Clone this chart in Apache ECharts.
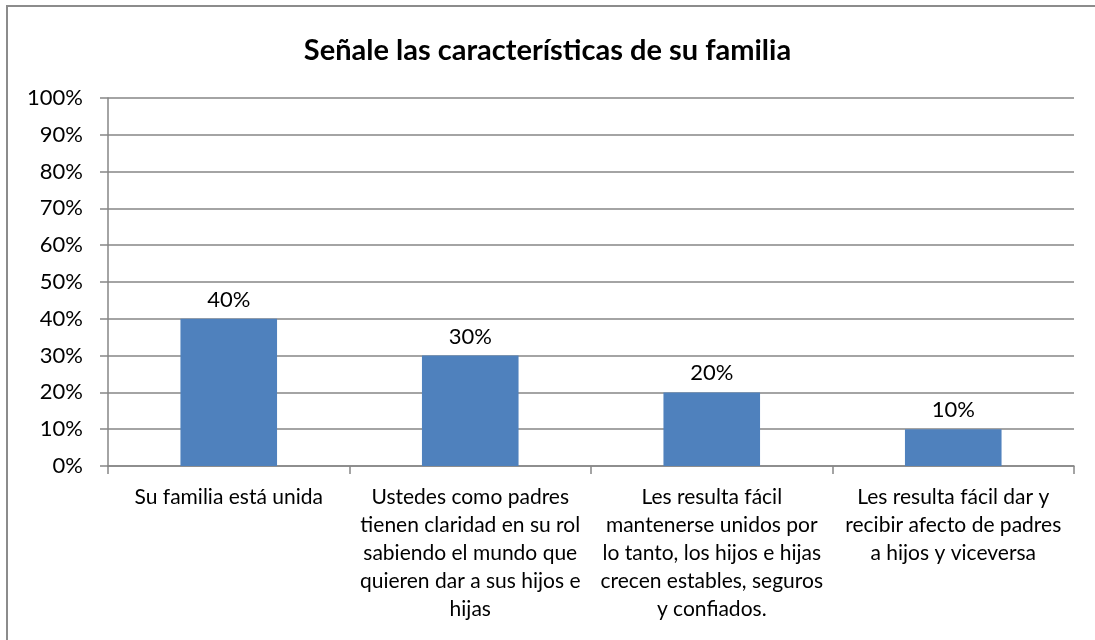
<!DOCTYPE html>
<html>
<head>
<meta charset="utf-8">
<script src="https://cdn.jsdelivr.net/npm/echarts@6/dist/echarts.min.js"></script>
<style>
html, body { margin: 0; padding: 0; background: #fff; }
#frame {
    position: absolute; left: 6px; top: 5px; width: 1089px; height: 635px;
    border-left: 2px solid #8c8c8c; border-top: 2px solid #8c8c8c;
    box-sizing: border-box;
}
#chart { position: absolute; left: 0; top: 0; width: 1095px; height: 640px; }
</style>
</head>
<body>
<div id="frame"></div>
<div id="chart"></div>
<script>
// categorias y valores
const categories = [
    'Su familia está unida',
    'Ustedes como padres\ntienen claridad en su rol\nsabiendo el mundo que\nquieren dar a sus hijos e\nhijas',
    'Les resulta fácil\nmantenerse unidos por\nlo tanto, los hijos e hijas\ncrecen estables, seguros\ny confiados.',
    'Les resulta fácil dar y\nrecibir afecto de padres\na hijos y viceversa'
];
const values = [0.40, 0.30, 0.20, 0.10];
const titleText = 'Señale las características de su familia';

const font = 'Lato, "Open Sans", sans-serif';
let myChart = echarts.init(document.getElementById('chart'), null, { renderer: 'canvas' });
myChart.setOption({
    animation: false,
    title: {
        text: titleText,
        left: 'center',
        top: 31,
        textStyle: { fontFamily: font, fontSize: 29, fontWeight: 'bold', color: '#000' }
    },
    grid: { left: 108, right: 21, top: 98, bottom: 174, containLabel: false },
    xAxis: {
        type: 'category',
        data: categories,
        axisLine: { lineStyle: { color: '#868686', width: 1.5 } },
        axisTick: { show: true, length: 8, lineStyle: { color: '#868686', width: 1.5 } },
        axisLabel: {
            interval: 0, margin: 17, color: '#000',
            fontFamily: font, fontSize: 21, lineHeight: 28
        }
    },
    yAxis: {
        type: 'value',
        min: 0, max: 1, interval: 0.1,
        axisLine: { show: true, lineStyle: { color: '#868686', width: 1.5 } },
        axisTick: { show: true, inside: false, length: 8, lineStyle: { color: '#868686', width: 1.5 } },
        splitLine: { lineStyle: { color: '#868686', width: 1.5 } },
        axisLabel: {
            margin: 25, color: '#000', fontFamily: font, fontSize: 22,
            formatter: v => Math.round(v * 100) + '%'
        }
    },
    series: [{
        type: 'bar',
        data: values,
        barWidth: '40%',
        itemStyle: { color: '#4f81bd' },
        label: {
            show: true, position: 'top', distance: 8,
            color: '#000', fontFamily: font, fontSize: 22,
            formatter: p => Math.round(p.value * 100) + '%'
        }
    }]
});
</script>
</body>
</html>
